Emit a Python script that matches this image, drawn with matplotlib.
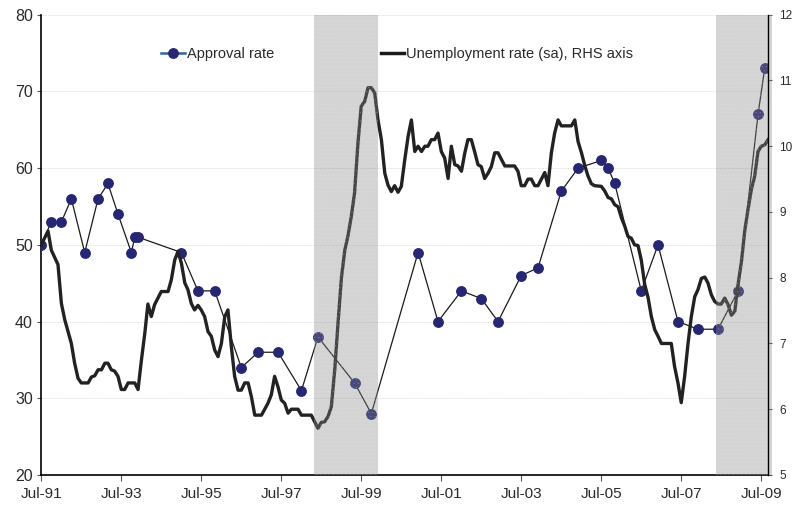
import pandas as pd
import matplotlib
matplotlib.use("Agg")
import matplotlib.pyplot as plt
import matplotlib.dates as mdates
from matplotlib.lines import Line2D

plt.rcParams['font.family'] = ['Liberation Sans', 'DejaVu Sans']
plt.rcParams['hatch.linewidth'] = 0.4

# Approval rate (%), left axis
approval_months = [
    "1991-07", "1991-10", "1992-01", "1992-04", "1992-08", "1992-12", "1993-03",
    "1993-06", "1993-10", "1993-11", "1993-12", "1995-01", "1995-06", "1995-11",
    "1996-07", "1996-12", "1997-06", "1998-01", "1998-06", "1999-05", "1999-10",
    "2000-12", "2001-06", "2002-01", "2002-07", "2002-12", "2003-07", "2003-12",
    "2004-07", "2004-12", "2005-07", "2005-09", "2005-11", "2006-07", "2006-12",
    "2007-06", "2007-12", "2008-06", "2008-12", "2009-06", "2009-08",
]
approval_rate = [
    50, 53, 53, 56, 49, 56, 58,
    54, 49, 51, 51, 49, 44, 44,
    34, 36, 36, 31, 38, 32, 28,
    49, 40, 44, 43, 40, 46, 47,
    57, 60, 61, 60, 58, 44, 50,
    40, 39, 39, 44, 67, 73,
]

# Unemployment rate (sa, %), right axis
unemp_months = [
    "1991-07", "1991-09", "1991-10", "1991-12", "1992-01", "1992-02", "1992-04",
    "1992-05", "1992-06", "1992-07", "1992-09", "1992-10", "1992-11", "1992-12",
    "1993-01", "1993-02", "1993-03", "1993-04", "1993-05", "1993-06", "1993-07",
    "1993-08", "1993-09", "1993-11", "1993-12", "1994-01", "1994-02", "1994-03",
    "1994-04", "1994-05", "1994-06", "1994-07", "1994-09", "1994-10", "1994-11",
    "1994-12", "1995-01", "1995-02", "1995-03", "1995-04", "1995-05", "1995-06",
    "1995-07", "1995-08", "1995-09", "1995-10", "1995-11", "1995-12", "1996-01",
    "1996-02", "1996-03", "1996-04", "1996-05", "1996-06", "1996-07", "1996-08",
    "1996-09", "1996-10", "1996-11", "1997-01", "1997-03", "1997-04", "1997-05",
    "1997-06", "1997-07", "1997-08", "1997-09", "1997-10", "1997-12", "1998-01",
    "1998-04", "1998-06", "1998-07", "1998-08", "1998-09", "1998-10", "1998-11",
    "1998-12", "1999-01", "1999-02", "1999-03", "1999-04", "1999-05", "1999-06",
    "1999-07", "1999-08", "1999-09", "1999-10", "1999-11", "1999-12", "2000-01",
    "2000-02", "2000-03", "2000-04", "2000-05", "2000-06", "2000-07", "2000-08",
    "2000-09", "2000-10", "2000-11", "2000-12", "2001-01", "2001-02", "2001-03",
    "2001-04", "2001-05", "2001-06", "2001-07", "2001-08", "2001-09", "2001-10",
    "2001-11", "2001-12", "2002-01", "2002-02", "2002-03", "2002-04", "2002-05",
    "2002-06", "2002-07", "2002-08", "2002-09", "2002-10", "2002-11", "2002-12",
    "2003-01", "2003-02", "2003-04", "2003-05", "2003-06", "2003-07", "2003-08",
    "2003-09", "2003-10", "2003-11", "2003-12", "2004-01", "2004-02", "2004-03",
    "2004-04", "2004-05", "2004-06", "2004-07", "2004-10", "2004-11", "2004-12",
    "2005-01", "2005-02", "2005-03", "2005-04", "2005-05", "2005-07", "2005-08",
    "2005-09", "2005-10", "2005-11", "2005-12", "2006-01", "2006-02", "2006-03",
    "2006-04", "2006-05", "2006-06", "2006-07", "2006-08", "2006-09", "2006-10",
    "2006-11", "2006-12", "2007-01", "2007-04", "2007-05", "2007-06", "2007-07",
    "2007-08", "2007-09", "2007-10", "2007-11", "2007-12", "2008-01", "2008-02",
    "2008-03", "2008-04", "2008-05", "2008-06", "2008-07", "2008-08", "2008-09",
    "2008-10", "2008-11", "2008-12", "2009-01", "2009-02", "2009-03", "2009-04",
    "2009-05", "2009-06", "2009-07", "2009-08", "2009-09",
]
unemp_rate = [
    8.50, 8.71, 8.42, 8.20, 7.61, 7.36, 7.00,
    6.70, 6.47, 6.40, 6.40, 6.49, 6.51, 6.60,
    6.60, 6.70, 6.70, 6.60, 6.58, 6.50, 6.30,
    6.30, 6.40, 6.40, 6.30, 6.75, 7.16, 7.60,
    7.41, 7.59, 7.69, 7.79, 7.79, 7.97, 8.27,
    8.40, 8.22, 7.92, 7.82, 7.61, 7.51, 7.58,
    7.51, 7.41, 7.18, 7.11, 6.90, 6.80, 7.00,
    7.41, 7.51, 6.95, 6.50, 6.29, 6.29, 6.40,
    6.40, 6.19, 5.91, 5.91, 6.09, 6.22, 6.50,
    6.34, 6.14, 6.09, 5.94, 6.00, 6.00, 5.91,
    5.91, 5.71, 5.80, 5.81, 5.89, 6.04, 6.60,
    7.31, 8.00, 8.42, 8.63, 8.93, 9.29, 10.05,
    10.61, 10.68, 10.89, 10.89, 10.81, 10.40, 10.10,
    9.59, 9.41, 9.31, 9.40, 9.30, 9.39, 9.79,
    10.15, 10.40, 9.92, 10.00, 9.92, 10.00, 10.00,
    10.10, 10.10, 10.20, 9.92, 9.82, 9.51, 10.00,
    9.72, 9.70, 9.62, 9.90, 10.10, 10.10, 9.92,
    9.72, 9.69, 9.51, 9.59, 9.69, 9.90, 9.90,
    9.80, 9.70, 9.70, 9.70, 9.62, 9.40, 9.40,
    9.50, 9.50, 9.40, 9.40, 9.50, 9.60, 9.40,
    9.90, 10.20, 10.40, 10.31, 10.31, 10.40, 10.07,
    9.90, 9.70, 9.55, 9.43, 9.40, 9.39, 9.32,
    9.22, 9.20, 9.11, 9.08, 8.91, 8.78, 8.63,
    8.60, 8.50, 8.49, 8.27, 7.90, 7.70, 7.41,
    7.21, 7.11, 7.00, 7.00, 6.65, 6.40, 6.10,
    6.50, 7.00, 7.41, 7.71, 7.82, 7.99, 8.01,
    7.92, 7.74, 7.64, 7.60, 7.60, 7.69, 7.59,
    7.43, 7.49, 7.90, 8.25, 8.73, 9.03, 9.34,
    9.54, 9.92, 10.00, 10.02, 10.10,
]

# shaded periods (start, end)
shade_periods = [("1998-04-25", "1999-12-04"), ("2008-05-13", "2009-10-05")]
tick_years = list(range(1991, 2010, 2))

approval_dates = pd.to_datetime(approval_months)
unemp_dates = pd.to_datetime(unemp_months)

fig = plt.figure(figsize=(7.93, 5.08), dpi=100)
ax = fig.add_axes([0.052, 0.065, 0.917, 0.906])
ax2 = ax.twinx()

navy = '#262673'
text_col = '#2a2a2a'
ax.plot(approval_dates, approval_rate, color='#1a1a1a', lw=0.9, marker='o',
        ms=6.8, mfc=navy, mec=navy, zorder=3)
ax2.plot(unemp_dates, unemp_rate, color='#222222', lw=2.4, zorder=3)

for start, end in shade_periods:
    s, e = pd.Timestamp(start), pd.Timestamp(end)
    span = ax2.axvspan(s, e, facecolor='#888888', alpha=0.36, edgecolor='none', zorder=5)
    span.set_clip_on(False)
    dots = ax2.axvspan(s, e, facecolor='none', edgecolor='#f2f2f2', hatch='....',
                       lw=0, alpha=0.2, zorder=6)
    dots.set_clip_on(False)

ax.set_xlim(pd.Timestamp("1991-07-01"), pd.Timestamp("2009-09-04"))
ax.set_ylim(20, 80)
ax.set_yticks(range(20, 81, 10))
ax2.set_ylim(5, 12)
ax2.set_yticks(range(5, 13))

ax.set_xticks(pd.to_datetime([f"{y}-07-01" for y in tick_years]))
ax.xaxis.set_major_formatter(mdates.DateFormatter('%b-%y'))

ax.yaxis.grid(True, color='#d9d9d9', lw=0.6, ls=(0, (1, 1)))
ax.set_axisbelow(True)

for a in (ax, ax2):
    a.spines['top'].set_visible(False)
ax.spines['right'].set_visible(False)
ax2.spines['left'].set_visible(False)
ax2.spines['bottom'].set_visible(False)
ax.spines['left'].set_linewidth(1.2)
ax.spines['bottom'].set_linewidth(1.2)
ax2.spines['right'].set_linewidth(1.0)
ax2.spines['right'].set_zorder(8)

ax.tick_params(axis='x', direction='out', length=4, width=0.8, color='#555555',
               labelsize=11, labelcolor=text_col, pad=5)
ax.tick_params(axis='y', direction='out', length=3, width=0.8, color='#555555',
               labelsize=11.5, labelcolor=text_col, pad=3)
ax2.tick_params(axis='y', direction='out', length=3, width=0.8, color='#555555',
                labelsize=8.5, labelcolor=text_col, pad=5)

handles = [
    Line2D([], [], color='#2b65a0', lw=1.8, marker='o', ms=6.8, mfc=navy, mec=navy),
    Line2D([], [], color='#1a1a1a', lw=2.5),
]
labels = ['Approval rate', 'Unemployment rate (sa), RHS axis']
fig.legend(handles, labels, loc='center left', bbox_to_anchor=(0.187, 0.894), ncol=2,
           frameon=False, handlelength=1.6, handletextpad=0.15, columnspacing=7.3,
           fontsize=10.5, labelcolor=text_col)

fig.savefig('out.png', dpi=100)
